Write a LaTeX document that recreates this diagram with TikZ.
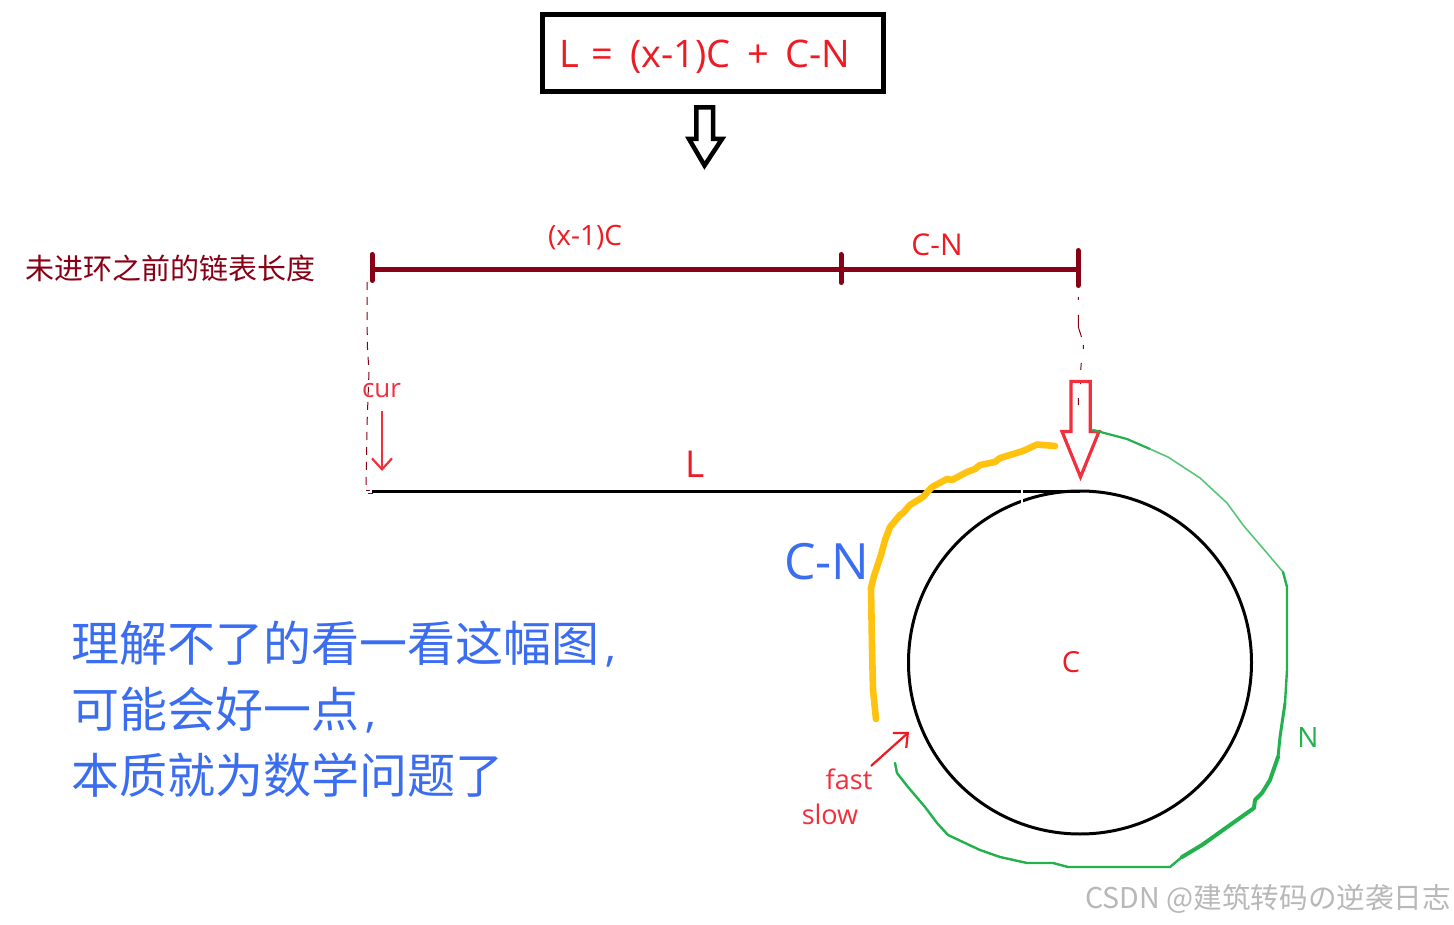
\documentclass[tikz,border=0pt]{standalone}
\usepackage{fontspec}
\setmainfont{Open Sans}
\newfontfamily\cjk{Noto Sans CJK SC}[Scale=1]
\usetikzlibrary{arrows.meta}
\definecolor{dred}{HTML}{880015}
\definecolor{mred}{HTML}{ED1C24}
\definecolor{lred}{HTML}{F0303C}
\definecolor{gold}{HTML}{FFC20E}
\definecolor{grn}{HTML}{22B14C}
\definecolor{blu}{HTML}{3A6DF0}
\tikzset{
  x=1pt,y=-1pt,
  txt/.style={inner sep=0pt,outer sep=0pt,text=mred,anchor=center},
  bar/.style={draw=dred,line width=5pt},
  tick/.style={draw=dred,line width=5pt,line cap=round},
  guide/.style={draw=dred,line width=1pt},
  hand/.style={draw=gold,line width=6.6pt,line cap=round,line join=round},
  ghand/.style={draw=grn,line cap=round,line join=round},
  thin arrow/.style={draw=lred,line width=2.2pt,-{Straight Barb[length=11pt,width=20pt,line width=2.2pt]}},
  blk/.style={draw=black,line width=3pt},
}
\begin{document}
\begin{tikzpicture}
\useasboundingbox (0,0) rectangle (1454,925);
\fill[white] (0,0) rectangle (1454,925);
% top formula
\node[draw=black,line width=4.6pt,minimum width=341pt,minimum height=77pt,inner sep=0pt] (formula) at (713,53) {};
\node[txt,anchor=west,font=\fontsize{38}{38}\selectfont] (ftext) at (559,56.5) {L\kern13pt=\kern17pt(x-1)C\kern17pt+\kern16pt C-N};
% hollow black arrow
\draw[draw=black,line width=4.5pt,line join=miter] (696.3,107.3) -- (713,107.3) -- (713,139) -- (722,139) -- (704.5,165.5) -- (689,139) -- (696.3,139) -- cycle;
% interval bar
\coordinate (b1) at (372,270);
\coordinate (b2) at (841,270);
\coordinate (b3) at (1078,270);
\draw[bar] (b1) -- (b3);
\draw[tick] (372,254.5) -- (372,280.5);
\draw[tick] (841,254.5) -- (841,282.5);
\draw[tick] (1078,250.5) -- (1078,285.5);
\node[txt,font=\fontsize{28}{28}\selectfont] (xc) at (585,238) {(x-1)C};
\node[txt,font=\fontsize{30}{30}\selectfont] (cn1) at (937,245) {C-N};
\node[txt,text=dred,font=\cjk\fontsize{29}{29}\selectfont] (prelen) at (170,268.5) {未进环之前的链表长度};
% guides
\draw[guide,dash pattern=on 8pt off 7pt] (367,282) -- (367.3,345) -- (369,372) -- (367,425) -- (366,490);
\draw[guide] (366,490) -- (370,490) (368,493) -- (373,493);
\draw[guide] (1078.3,297) -- (1078.3,300) (1078.3,315) -- (1078.3,327) -- (1081.5,337) (1083.3,345) -- (1083.3,349) (1081.3,363) -- (1080.7,370) (1080.7,381) -- (1080.7,384) (1078.3,398) -- (1078.3,405);
% L line
\coordinate (l0) at (372,491);
\coordinate (l1) at (1080,491);
\draw[blk] (l0) -- (l1);
\node[txt,font=\fontsize{37}{37}\selectfont] (ll) at (695,464) {L};
% cur
\node[txt,text=lred,font=\fontsize{26}{26}\selectfont] (cur) at (381.5,391) {cur};
\coordinate (cura) at (382,411);
\coordinate (curb) at (382,471);
\draw[thin arrow] (cura) -- (curb);
% circle
\node[draw=black,line width=3pt,circle,minimum size=343pt,inner sep=0pt] (ring) at (1080,662.5) {};
\fill[white] (1020.5,489) rectangle (1023,503);
\node[txt,font=\fontsize{29}{29}\selectfont] (cc) at (1071,662) {C};
% red hollow arrow
\draw[draw=lred,line width=3.2pt,line join=miter] (1071,381.5) -- (1090.3,381.5) -- (1090.3,431.5) -- (1099,431.5) -- (1080.5,477) -- (1062,431.5) -- (1071,431.5) -- cycle;
% green path
\draw[ghand,line width=2.2pt] (1093,430) -- (1127,439) -- (1150,449);
\draw[ghand,line width=1.6pt,draw=grn!75!white] (1150,449) -- (1168,457) -- (1200,478) -- (1227,503) -- (1243,525) -- (1267,553) -- (1283,572);
\draw[ghand,line width=2.4pt] (1283,572) -- (1287,587) -- (1287,670) -- (1285,703);
\draw[ghand,line width=3pt] (1285,703) -- (1280,737) -- (1278,757);
\draw[ghand,line width=4pt] (1278,757) -- (1270,780) -- (1262,793) -- (1255,800) -- (1254,808) -- (1230,825) -- (1202,845) -- (1182,857);
\draw[ghand,line width=2.4pt] (1182,857) -- (1170,867) -- (1068,867) -- (1053,863) -- (1027,863) -- (1000,857) -- (980,850) -- (948,835) -- (937,823) -- (925,807) -- (908,787) -- (897,773) -- (895,763);
\node[txt,text=grn,font=\fontsize{28}{28}\selectfont] (nn) at (1308,738) {N};
% gold path
\draw[hand] (1055,446) -- (1037,444.5) -- (1023,451) -- (1000,458) -- (995,462) -- (980,465) -- (975,469) -- (967,472) -- (952,480) -- (947,479) -- (932,487) -- (923,497) -- (910,505) -- (903,513) -- (900,515) -- (890,527) -- (885,540) -- (881,555) -- (877,567) -- (874,576) -- (871,588) -- (872,647) -- (873,690) -- (876,719);
\node[txt,text=blu,font=\fontsize{50}{50}\selectfont] (cn2) at (827,561.5) {C-N};
% fast slow
\node[txt,text=lred,font=\fontsize{27}{27}\selectfont] (fast) at (849,779) {fast};
\node[txt,text=lred,font=\fontsize{27}{27}\selectfont] (slow) at (830,814) {slow};
\coordinate (fa) at (871,766);
\coordinate (fb) at (909,732);
\draw[thin arrow,draw=mred] (fa) -- (fb);
% blue note
\node[txt,anchor=west,text=blu,font=\cjk\fontsize{48}{48}\selectfont] (n1) at (71.5,644.5) {理解不了的看一看这幅图\kern6pt{\rmfamily\fontsize{44}{44}\selectfont,}};
\node[txt,anchor=west,text=blu,font=\cjk\fontsize{48}{48}\selectfont] (n2) at (71.5,710.5) {可能会好一点\kern6pt{\rmfamily\fontsize{44}{44}\selectfont,}};
\node[txt,anchor=west,text=blu,font=\cjk\fontsize{48}{48}\selectfont] (n3) at (71.5,775.5) {本质就为数学问题了};
% watermark
\node[txt,anchor=east,text=black!28,font=\cjk\fontsize{28.6}{28.6}\selectfont] (wm) at (1451,899) {CSDN @建筑转码の逆袭日志};
\end{tikzpicture}
\end{document}
